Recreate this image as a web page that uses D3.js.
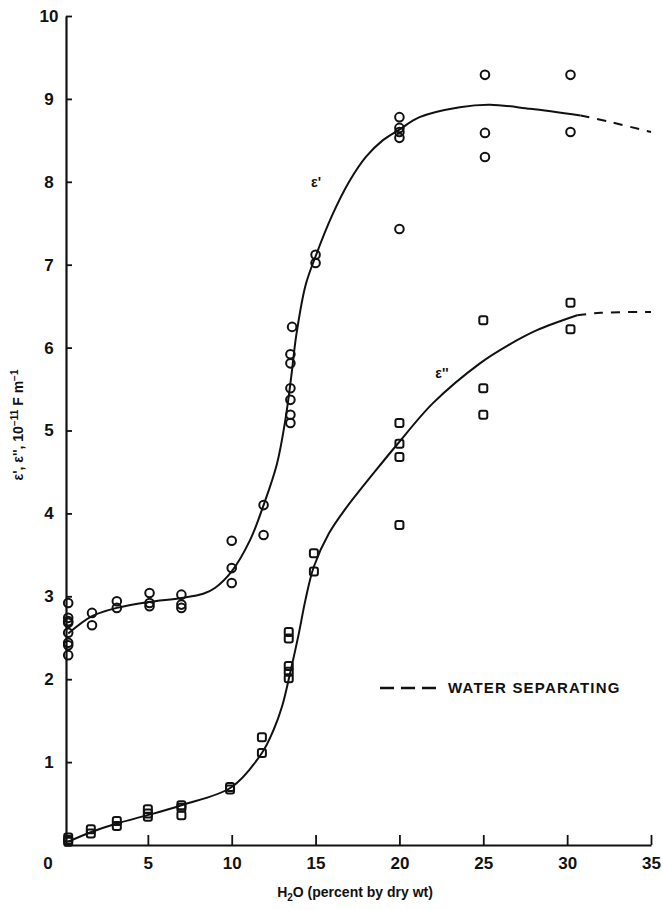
<!DOCTYPE html>
<html><head><meta charset="utf-8">
<script src="https://cdn.jsdelivr.net/npm/d3@7"></script>
<style>
body{margin:0;background:#fff;}
svg{display:block;}
text{font-family:"Liberation Sans",Arial,Helvetica,sans-serif;font-weight:bold;fill:#111;}
</style></head>
<body>
<svg id="c" width="662" height="910"></svg>
<script>
// ---- data ----
const xTicks = [5, 10, 15, 20, 25, 30, 35];
const yTicks = [1, 2, 3, 4, 5, 6, 7, 8, 9, 10];

// epsilon' measured points (circles)
const eps1X = [0.25,0.25,0.25,0.25,0.25,0.25,0.25,0.25, 1.67,1.67, 3.15,3.15, 5.1,5.1,5.1, 7.0,7.0,7.0,
               10.0,10.0,10.0, 11.9,11.9, 13.6,13.5,13.5,13.5,13.5,13.5,13.5, 15.0,15.0,
               20.0,20.0,20.0,20.0,20.0, 25.1,25.1,25.1, 30.2,30.2];
const eps1Y = [2.92,2.74,2.70,2.68,2.56,2.44,2.41,2.29, 2.80,2.65, 2.94,2.86, 3.04,2.92,2.88, 3.02,2.90,2.86,
               3.67,3.34,3.16, 4.10,3.74, 6.25,5.92,5.81,5.51,5.37,5.19,5.09, 7.12,7.02,
               8.78,8.65,8.60,8.53,7.43, 9.29,8.59,8.30, 9.29,8.60];

// epsilon'' measured points (squares)
const eps2X = [0.25,0.25,0.25, 1.6,1.6, 3.15,3.15, 5.0,5.0,5.0, 7.0,7.0,7.0, 9.9,9.9, 11.8,11.8,
               13.4,13.4,13.4,13.4,13.4, 14.9,14.9, 20.0,20.0,20.0,20.0, 25.0,25.0,25.0, 30.2,30.2];
const eps2Y = [0.09,0.06,0.04, 0.19,0.14, 0.29,0.23, 0.43,0.38,0.34, 0.48,0.45,0.36, 0.70,0.67, 1.30,1.11,
               2.57,2.49,2.16,2.09,2.01, 3.52,3.30, 5.09,4.84,4.68,3.86, 6.33,5.51,5.19, 6.54,6.22];

// fitted curves (solid part) and "water separating" (dashed part)
const eps1CurveX = [0.25,1.67,3.15,5,7,8.3,9,10,11.1,11.9,12.7,13.2,13.55,13.85,14.4,15,16,17,18,19,20,21.2,23.6,25.4,27.8,30.8];
const eps1CurveY = [2.55,2.76,2.86,2.93,2.98,3.03,3.10,3.30,3.68,4.10,4.60,5.13,5.65,6.15,6.75,7.10,7.60,8.00,8.30,8.50,8.63,8.78,8.90,8.93,8.88,8.80];
const eps1DashX = [30.8,32.6,35];
const eps1DashY = [8.80,8.72,8.60];

const eps2CurveX = [0.25,1.67,3.15,5,7,10,11.8,12.5,13,13.5,14,14.4,14.9,15.8,16.8,19,19.9,22,24.8,26.5,28.2,30.6];
const eps2CurveY = [0.04,0.16,0.26,0.36,0.48,0.70,1.11,1.39,1.67,2.09,2.55,2.96,3.36,3.76,4.06,4.62,4.84,5.33,5.81,6.03,6.21,6.39];
const eps2DashX = [30.6,32,35];
const eps2DashY = [6.39,6.42,6.43];

// ---- drawing ----
const svg = d3.select("#c");
const x = d3.scaleLinear().domain([0, 35]).range([64, 651]);
const y = d3.scaleLinear().domain([0, 10]).range([845, 16]);

// axes
const ya = svg.append("g").attr("transform", `translate(${x(0) + 2},0)`)
  .call(d3.axisLeft(y).tickValues(yTicks).tickSizeInner(-6).tickSizeOuter(0).tickFormat(d3.format("d")));
ya.select(".domain").attr("stroke", "#111").attr("stroke-width", 2.2);
ya.selectAll(".tick line").attr("stroke", "#111").attr("stroke-width", 1.8);
ya.selectAll(".tick text").attr("x", -17).attr("text-anchor", "middle")
  .style("font-size", "17px").style("font-family", '"Liberation Sans",Arial,sans-serif').style("font-weight", "bold").attr("fill", "#111");

const xa = svg.append("g").attr("transform", `translate(0,${y(0)})`)
  .call(d3.axisBottom(x).tickValues(xTicks).tickSizeInner(-10).tickSizeOuter(0).tickFormat(d3.format("d")));
xa.select(".domain").attr("stroke", "#111").attr("stroke-width", 2.2);
xa.selectAll(".tick line").attr("stroke", "#111").attr("stroke-width", 1.8);
xa.selectAll(".tick text").attr("y", 12)
  .style("font-size", "17px").style("font-family", '"Liberation Sans",Arial,sans-serif').style("font-weight", "bold").attr("fill", "#111");

// origin label
svg.append("text").attr("x", 48).attr("y", 863).attr("dy", "0.35em").attr("text-anchor", "middle")
  .style("font-size", "17px").text("0");

// axis titles
const xt = svg.append("text").attr("x", 355).attr("y", 897).attr("text-anchor", "middle").style("font-size", "14px");
xt.append("tspan").text("H");
xt.append("tspan").attr("dy", 4).style("font-size", "10px").text("2");
xt.append("tspan").attr("dy", -4).text("O (percent by dry wt)");

const yt = svg.append("text").attr("transform", "translate(23,425) rotate(-90)").attr("text-anchor", "middle").style("font-size", "14px");
yt.append("tspan").text("ε', ε'', 10");
yt.append("tspan").attr("dy", -5).style("font-size", "10px").text("−11");
yt.append("tspan").attr("dy", 5).text(" F m");
yt.append("tspan").attr("dy", -5).style("font-size", "10px").text("−1");

// curves
const line = d3.line().x(d => x(d[0])).y(d => y(d[1])).curve(d3.curveCatmullRom.alpha(0.5));
const zipP = (a, b) => a.map((v, i) => [v, b[i]]);
svg.append("path").attr("d", line(zipP(eps1CurveX, eps1CurveY))).attr("fill", "none").attr("stroke", "#111").attr("stroke-width", 2);
svg.append("path").attr("d", line(zipP(eps1DashX, eps1DashY))).attr("fill", "none").attr("stroke", "#111").attr("stroke-width", 2).attr("stroke-dasharray", "9,8");
svg.append("path").attr("d", line(zipP(eps2CurveX, eps2CurveY))).attr("fill", "none").attr("stroke", "#111").attr("stroke-width", 2);
svg.append("path").attr("d", line(zipP(eps2DashX, eps2DashY))).attr("fill", "none").attr("stroke", "#111").attr("stroke-width", 2).attr("stroke-dasharray", "9,8");

// markers
svg.append("g").selectAll("circle").data(zipP(eps1X, eps1Y)).join("circle")
  .attr("cx", d => x(d[0])).attr("cy", d => y(d[1])).attr("r", 4.3)
  .attr("fill", "none").attr("stroke", "#111").attr("stroke-width", 2);
svg.append("g").selectAll("rect").data(zipP(eps2X, eps2Y)).join("rect")
  .attr("x", d => x(d[0]) - 4).attr("y", d => y(d[1]) - 4).attr("width", 8).attr("height", 8).attr("rx", 2)
  .attr("fill", "none").attr("stroke", "#111").attr("stroke-width", 2);

// curve labels
svg.append("text").attr("x", 316).attr("y", 187).attr("text-anchor", "middle").style("font-size", "14px").text("ε'");
svg.append("text").attr("x", 442).attr("y", 378).attr("text-anchor", "middle").style("font-size", "14px").text("ε''");

// legend
svg.append("line").attr("x1", 380).attr("x2", 437).attr("y1", 688).attr("y2", 688)
  .attr("stroke", "#111").attr("stroke-width", 2.5).attr("stroke-dasharray", "14,7");
svg.append("text").attr("x", 448).attr("y", 688).attr("dy", "0.36em").style("font-size", "15px").style("letter-spacing", "1.2px").text("WATER SEPARATING");
</script>
</body></html>
